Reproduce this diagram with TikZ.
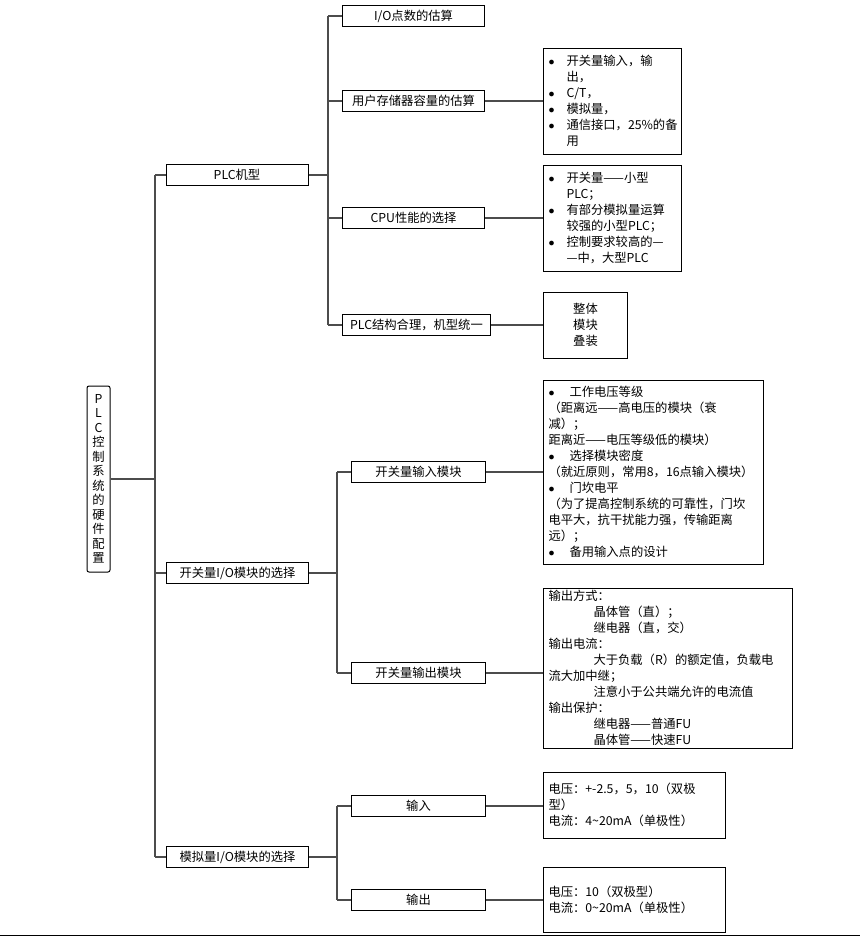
\documentclass[tikz,border=0pt]{standalone}
\usepackage{fontspec}
\setmainfont{Noto Sans CJK SC}
\usetikzlibrary{positioning}

\newcommand{\bul}[1]{\makebox[18pt][l]{$\bullet$}#1}
\newcommand{\cnt}{\hspace*{18pt}}
\newcommand{\ind}{\hspace*{45pt}}

\begin{document}
\begin{tikzpicture}[x=1pt,y=-1pt,
    every node/.style={font=\fontsize{12.3}{16}\selectfont},
    branch node/.style={draw,line width=1pt,minimum width=142pt,minimum height=21pt,inner sep=0pt},
    leaf node/.style={draw,line width=1pt,minimum height=21pt,inner sep=0pt,anchor=west},
    note node/.style={draw,line width=1pt,anchor=west,align=left,inner xsep=5pt,inner ysep=0pt},
    link/.style={draw=black!70,line width=1.2pt}]

    \useasboundingbox (0,0) rectangle (860,937);

    % root
    \node[draw,line width=1pt,rounded corners=2pt,minimum width=23pt,minimum height=186pt,inner sep=0pt,align=center,
          font=\fontsize{12.3}{14.5}\selectfont] (root) at (98.5,479)
        {P\\L\\C\\控\\制\\系\\统\\的\\硬\\件\\配\\置};

    % first level
    \node[branch node] (plc) at (237,175) {PLC机型};
    \node[branch node] (dig) at (237.5,573) {开关量I/O模块的选择};
    \node[branch node] (ana) at (237.5,857) {模拟量I/O模块的选择};

    % PLC branch
    \node[leaf node,minimum width=142pt] (io)  at (342,16)  {I/O点数的估算};
    \node[leaf node,minimum width=142pt] (mem) at (342,101) {用户存储器容量的估算};
    \node[leaf node,minimum width=142pt] (cpu) at (342,218) {CPU性能的选择};
    \node[leaf node,minimum width=148pt] (str) at (342,325) {PLC结构合理，机型统一};

    \node[note node,text width=128pt,minimum height=106pt] (memnote) at (543,101)
        {\bul{开关量输入，输}\\\cnt 出，\\\bul{C/T，}\\\bul{模拟量，}\\\bul{通信接口，25\%的备}\\\cnt 用};
    \node[note node,text width=128pt,minimum height=106pt] (cpunote) at (543,218)
        {\bul{开关量——小型}\\\cnt PLC；\\\bul{有部分模拟量运算}\\\cnt 较强的小型PLC；\\\bul{控制要求较高的—}\\\cnt —中，大型PLC};
    \node[note node,text width=74pt,minimum height=66pt,align=center] (strnote) at (543,325)
        {整体\\模块\\叠装};

    % digital I/O branch
    \node[leaf node,minimum width=134pt] (din)  at (351,472) {开关量输入模块};
    \node[leaf node,minimum width=134pt] (dout) at (351,673) {开关量输出模块};

    \node[note node,text width=210pt,minimum height=184pt] (dinnote) at (543,472)
        {\bul{\hspace*{3pt}工作电压等级}\\
         （距离远——高电压的模块（衰\\
         减）；\\
         距离近——电压等级低的模块）\\
         \bul{\hspace*{3pt}选择模块密度}\\
         （就近原则，常用8，16点输入模块）\\
         \bul{\hspace*{3pt}门坎电平}\\
         （为了提高控制系统的可靠性，门坎\\
         电平大，抗干扰能力强，传输距离\\
         远）；\\
         \bul{\hspace*{3pt}备用输入点的设计}};
    \node[note node,text width=239pt,minimum height=160pt] (doutnote) at (543,668)
        {输出方式：\\
         \ind 晶体管（直）；\\
         \ind 继电器（直，交）\\
         输出电流：\\
         \ind 大于负载（R）的额定值，负载电\\
         流大加中继；\\
         \ind 注意小于公共端允许的电流值\\
         输出保护：\\
         \ind 继电器——普通FU\\
         \ind 晶体管——快速FU};

    % analog I/O branch
    \node[leaf node,minimum width=134pt] (ain)  at (351,806) {输入};
    \node[leaf node,minimum width=134pt] (aout) at (351,900) {输出};

    \node[note node,text width=172pt,minimum height=66pt] (ainnote) at (543,805)
        {电压：+-2.5，5，10（双极\\型）\\电流：4\textasciitilde 20mA（单极性）};
    \node[note node,text width=172pt,minimum height=65pt] (aoutnote) at (543,900)
        {电压：10（双极型）\\电流：0\textasciitilde 20mA（单极性）};

    % trunks
    \coordinate (t0) at (155,0);
    \coordinate (t1) at (328,0);
    \coordinate (t2) at (337,0);

    \draw[link] (root.east) -- (root.east -| t0);
    \draw[link] (plc.west -| t0) -- (ana.west -| t0);
    \foreach \n in {plc,dig,ana}
        \draw[link] (\n.west -| t0) -- (\n.west);

    \draw[link] (plc.east) -- (plc.east -| t1);
    \draw[link] (io.west -| t1) -- (str.west -| t1);
    \foreach \n in {io,mem,cpu,str}
        \draw[link] (\n.west -| t1) -- (\n.west);

    \draw[link] (dig.east) -- (dig.east -| t2);
    \draw[link] (din.west -| t2) -- (dout.west -| t2);
    \foreach \n in {din,dout}
        \draw[link] (\n.west -| t2) -- (\n.west);

    \draw[link] (ana.east) -- (ana.east -| t2);
    \draw[link] (ain.west -| t2) -- (aout.west -| t2);
    \foreach \n in {ain,aout}
        \draw[link] (\n.west -| t2) -- (\n.west);

    % leaf to note
    \draw[link] (mem.east) -- (memnote.west);
    \draw[link] (cpu.east) -- (cpunote.west);
    \draw[link] (str.east) -- (strnote.west);
    \draw[link] (din.east) -- (dinnote.west);
    \draw[link] (dout.east) -- (dout.east -| doutnote.west);
    \draw[link] (ain.east) -- (ain.east -| ainnote.west);
    \draw[link] (aout.east) -- (aoutnote.west);

    % bottom rule
    \draw[line width=1pt] (0,935) -- (860,935);
\end{tikzpicture}
\end{document}
